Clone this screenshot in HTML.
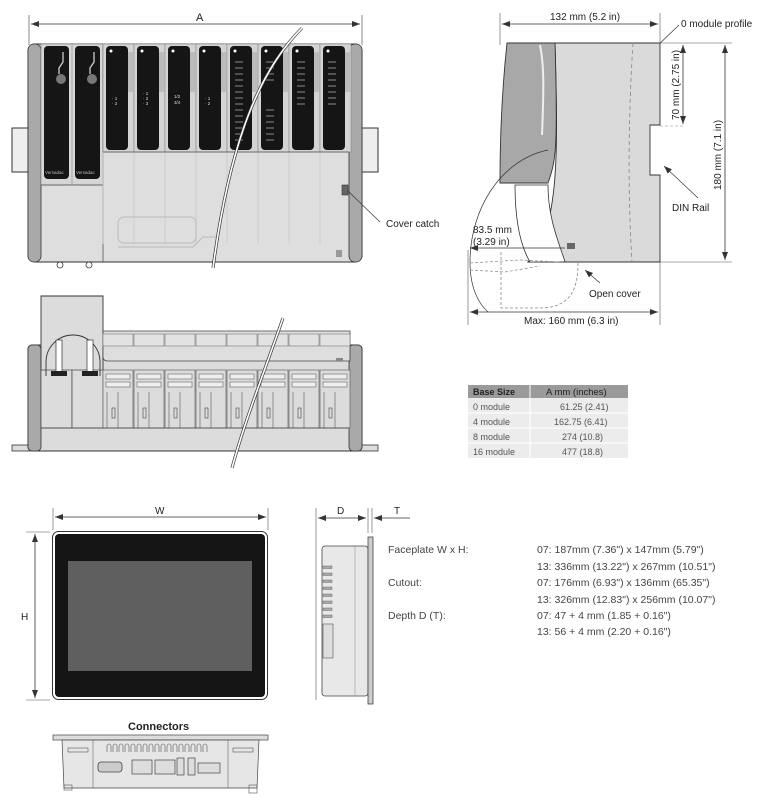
<!DOCTYPE html>
<html><head><meta charset="utf-8"><style>
html,body{margin:0;padding:0;background:#fff;width:768px;height:811px;overflow:hidden}
svg{display:block}
text{font-family:"Liberation Sans",sans-serif;fill:#222}
</style></head><body>
<svg width="768" height="811" viewBox="0 0 768 811" xmlns="http://www.w3.org/2000/svg">
<defs>
<marker id="ar" markerWidth="8" markerHeight="6" refX="8" refY="3" orient="auto-start-reverse" markerUnits="userSpaceOnUse"><path d="M0,0 L8,3 L0,6 z" fill="#333"/></marker>
<g id="mod">
 <rect x="0" y="0" width="31" height="108" fill="#d4d4d4" stroke="#888" stroke-width="0.6"/>
 <rect x="3" y="2" width="22" height="104" rx="4" fill="#151515"/>
 <circle cx="8" cy="7" r="1.5" fill="#fff"/>
 <rect x="25" y="8" width="5" height="40" fill="#bbb"/>
 <line x1="0" y1="108" x2="0" y2="200" stroke="#c8c8c8" stroke-width="0.8"/>
</g>
<g id="smod">
 <rect x="0" y="0" width="30" height="12" fill="#e2e2e2" stroke="#777" stroke-width="0.6"/>
 <rect x="0" y="36" width="30" height="58" fill="#dcdcdc" stroke="#666" stroke-width="0.7"/>
 <rect x="3" y="40" width="24" height="5" fill="#eee" stroke="#666" stroke-width="0.6"/>
 <rect x="3" y="48" width="24" height="5" fill="#eee" stroke="#666" stroke-width="0.6"/>
 <line x1="4" y1="58" x2="4" y2="94" stroke="#555" stroke-width="0.6"/>
 <line x1="15" y1="58" x2="15" y2="94" stroke="#555" stroke-width="0.6"/>
 <rect x="9" y="74" width="3" height="10" fill="none" stroke="#444" stroke-width="0.6"/>
</g>
</defs>

<!-- ===== Top front view ===== -->
<line x1="29" y1="15" x2="29" y2="45" stroke="#555" stroke-width="0.7"/>
<line x1="362" y1="15" x2="362" y2="45" stroke="#555" stroke-width="0.7"/>
<line x1="31" y1="24" x2="360" y2="24" stroke="#333" stroke-width="0.8" marker-start="url(#ar)" marker-end="url(#ar)"/>
<text x="196" y="21" font-size="11">A</text>
<rect x="12" y="128" width="18" height="44" fill="#eee" stroke="#333" stroke-width="1"/>
<rect x="360" y="128" width="18" height="44" fill="#eee" stroke="#333" stroke-width="1"/>
<rect x="28" y="44" width="334" height="218" rx="7" fill="#dedede" stroke="#333" stroke-width="1"/>
<rect x="28" y="44" width="13" height="218" rx="6" fill="#a9a9a9" stroke="#333" stroke-width="0.8"/>
<rect x="349" y="44" width="13" height="218" rx="6" fill="#a9a9a9" stroke="#333" stroke-width="0.8"/>
<rect x="41" y="44" width="62" height="141" fill="#d6d6d6" stroke="#777" stroke-width="0.6"/>
<rect x="44" y="46" width="25" height="133" rx="4" fill="#151515"/>
<rect x="75" y="46" width="25" height="133" rx="4" fill="#151515"/>
<line x1="72" y1="44" x2="72" y2="185" stroke="#888" stroke-width="0.6"/>
<line x1="41" y1="185" x2="103" y2="185" stroke="#555" stroke-width="0.8"/>
<line x1="103" y1="44" x2="103" y2="262" stroke="#555" stroke-width="0.8"/>
<circle cx="61" cy="79" r="5" fill="#777"/><circle cx="92" cy="79" r="5" fill="#777"/>
<path d="M63,52 v10 l-4,6 v6" stroke="#ccc" fill="none" stroke-width="1.3"/>
<path d="M94,52 v10 l-4,6 v6" stroke="#ccc" fill="none" stroke-width="1.3"/>
<text x="45" y="174" font-size="4.5" style="fill:#bbb">Versadac</text>
<text x="76" y="174" font-size="4.5" style="fill:#bbb">Versadac</text>
<use href="#mod" x="103" y="44"/><use href="#mod" x="134" y="44"/><use href="#mod" x="165" y="44"/><use href="#mod" x="196" y="44"/>
<use href="#mod" x="227" y="44"/><use href="#mod" x="258" y="44"/><use href="#mod" x="289" y="44"/><use href="#mod" x="320" y="44"/>
<line x1="103" y1="152" x2="349" y2="152" stroke="#555" stroke-width="0.8"/>
<g font-size="4.5">
<text x="112" y="100" style="fill:#ddd">· 1</text><text x="112" y="105" style="fill:#ddd">· 2</text>
<text x="143" y="95" style="fill:#ddd">· 1</text><text x="143" y="100" style="fill:#ddd">· 2</text><text x="143" y="105" style="fill:#ddd">· 3</text>
<text x="174" y="98" style="fill:#ddd">1/2</text><text x="174" y="104" style="fill:#ddd">3/4</text>
<text x="205" y="100" style="fill:#ddd">· 1</text><text x="205" y="105" style="fill:#ddd">· 2</text>
</g>
<g stroke="#aaa" stroke-width="0.8">
<line x1="235" y1="62" x2="243" y2="62"/><line x1="235" y1="68" x2="243" y2="68"/><line x1="235" y1="74" x2="243" y2="74"/><line x1="235" y1="80" x2="243" y2="80"/><line x1="235" y1="86" x2="243" y2="86"/><line x1="235" y1="92" x2="243" y2="92"/><line x1="235" y1="98" x2="243" y2="98"/><line x1="235" y1="104" x2="243" y2="104"/><line x1="235" y1="110" x2="243" y2="110"/><line x1="235" y1="116" x2="243" y2="116"/><line x1="235" y1="122" x2="243" y2="122"/><line x1="235" y1="128" x2="243" y2="128"/><line x1="235" y1="134" x2="243" y2="134"/><line x1="235" y1="140" x2="243" y2="140"/>
<line x1="266" y1="62" x2="274" y2="62"/><line x1="266" y1="68" x2="274" y2="68"/><line x1="266" y1="74" x2="274" y2="74"/><line x1="266" y1="80" x2="274" y2="80"/><line x1="266" y1="110" x2="274" y2="110"/><line x1="266" y1="116" x2="274" y2="116"/><line x1="266" y1="122" x2="274" y2="122"/><line x1="266" y1="128" x2="274" y2="128"/><line x1="266" y1="134" x2="274" y2="134"/><line x1="266" y1="140" x2="274" y2="140"/>
<line x1="297" y1="62" x2="305" y2="62"/><line x1="297" y1="68" x2="305" y2="68"/><line x1="297" y1="74" x2="305" y2="74"/><line x1="297" y1="80" x2="305" y2="80"/><line x1="297" y1="86" x2="305" y2="86"/><line x1="297" y1="92" x2="305" y2="92"/><line x1="297" y1="98" x2="305" y2="98"/><line x1="297" y1="104" x2="305" y2="104"/>
<line x1="328" y1="62" x2="336" y2="62"/><line x1="328" y1="68" x2="336" y2="68"/><line x1="328" y1="74" x2="336" y2="74"/><line x1="328" y1="80" x2="336" y2="80"/><line x1="328" y1="86" x2="336" y2="86"/><line x1="328" y1="92" x2="336" y2="92"/><line x1="328" y1="98" x2="336" y2="98"/><line x1="328" y1="104" x2="336" y2="104"/>
</g>
<path d="M124,217 h66 a6,6 0 0 1 6,6 v14 a6,6 0 0 1 -6,6 h-66 a6,6 0 0 1 -6,-6 v-14 a6,6 0 0 1 6,-6z" fill="none" stroke="#bbb" stroke-width="1"/>
<path d="M118,247 h75 l10,-10 h14" fill="none" stroke="#bbb" stroke-width="1"/>
<rect x="342" y="185" width="6" height="10" fill="#666" stroke="#333" stroke-width="0.6"/>
<rect x="336" y="250" width="6" height="7" fill="#999"/>
<circle cx="60" cy="265" r="3" fill="none" stroke="#333" stroke-width="0.8"/><circle cx="89" cy="265" r="3" fill="none" stroke="#333" stroke-width="0.8"/>
<line x1="348" y1="191" x2="380" y2="222" stroke="#333" stroke-width="0.7"/>
<text x="386" y="227" font-size="10">Cover catch</text>
<path d="M302,28 C260,70 230,140 213,268" fill="none" stroke="#333" stroke-width="3"/>
<path d="M302,28 C260,70 230,140 213,268" fill="none" stroke="#fff" stroke-width="1.6"/>

<!-- ===== Second view ===== -->
<rect x="12" y="445" width="18" height="6" fill="#ddd" stroke="#333" stroke-width="0.8"/>
<rect x="360" y="445" width="18" height="6" fill="#ddd" stroke="#333" stroke-width="0.8"/>
<rect x="28" y="345" width="334" height="106" rx="4" fill="#dcdcdc" stroke="#333" stroke-width="1"/>
<rect x="28" y="345" width="13" height="106" rx="4" fill="#a9a9a9" stroke="#333" stroke-width="0.8"/>
<rect x="349" y="345" width="13" height="106" rx="4" fill="#a9a9a9" stroke="#333" stroke-width="0.8"/>
<path d="M41,296 h62 v75 h-62 z" fill="#dcdcdc" stroke="#333" stroke-width="0.9"/>
<rect x="41" y="370" width="31" height="58" fill="#dcdcdc" stroke="#444" stroke-width="0.7"/>
<rect x="72" y="370" width="31" height="58" fill="#dcdcdc" stroke="#444" stroke-width="0.7"/>
<path d="M46,376 v-14 a22,22 0 0 1 54,0 v14" fill="none" stroke="#333" stroke-width="0.9"/>
<rect x="56" y="340" width="6" height="32" fill="#fff" stroke="#333" stroke-width="0.7"/>
<rect x="87" y="340" width="6" height="32" fill="#fff" stroke="#333" stroke-width="0.7"/>
<rect x="51" y="371" width="16" height="5" fill="#222"/><rect x="82" y="371" width="16" height="5" fill="#222"/>
<path d="M103,331 h247 v30 h-243 a4,4 0 0 1 -4,-4z" fill="#dedede" stroke="#444" stroke-width="0.8"/>
<use href="#smod" x="103" y="334"/><use href="#smod" x="134" y="334"/><use href="#smod" x="165" y="334"/><use href="#smod" x="196" y="334"/>
<use href="#smod" x="227" y="334"/><use href="#smod" x="258" y="334"/><use href="#smod" x="289" y="334"/><use href="#smod" x="320" y="334"/>
<line x1="41" y1="428" x2="349" y2="428" stroke="#444" stroke-width="0.8"/>
<rect x="336" y="358" width="7" height="3" fill="#888"/>
<path d="M283,318 C265,370 245,420 232,468" fill="none" stroke="#333" stroke-width="3"/>
<path d="M283,318 C265,370 245,420 232,468" fill="none" stroke="#fff" stroke-width="1.6"/>

<!-- ===== Side view ===== -->
<line x1="500" y1="13" x2="500" y2="45" stroke="#555" stroke-width="0.6"/>
<line x1="660" y1="13" x2="660" y2="45" stroke="#555" stroke-width="0.6"/>
<line x1="502" y1="24" x2="658" y2="24" stroke="#333" stroke-width="0.8" marker-start="url(#ar)" marker-end="url(#ar)"/>
<text x="550" y="20" font-size="10">132 mm (5.2 in)</text>
<text x="681" y="27" font-size="10">0 module profile</text>
<line x1="679" y1="25" x2="628" y2="74" stroke="#333" stroke-width="0.7" marker-end="url(#ar)"/>
<path d="M555,43 h105 v82 h-10 v50 h10 v87 h-132 C560,230 558,150 555,43z" fill="#dadada" stroke="#333" stroke-width="0.9"/>
<path d="M507,43 h48 C558,150 556,160 548,183 h-48 C500,130 503,80 507,43z" fill="#a8a8a8" stroke="#333" stroke-width="0.9"/>
<path d="M540,45 c4,20 4,40 2,90" fill="none" stroke="#eee" stroke-width="2"/>
<path d="M633,43 C628,120 628,200 632,262" fill="none" stroke="#888" stroke-width="0.8" stroke-dasharray="4,3"/>
<path d="M515,185 h33 C548,220 560,245 565,262 h-35 C520,245 515,220 515,185z" fill="#fff" stroke="#333" stroke-width="0.8"/>
<path d="M548,150 C500,160 470,210 470,262 C470,290 480,305 488,312" fill="none" stroke="#333" stroke-width="0.7"/>
<rect x="567" y="243" width="8" height="6" fill="#666"/>
<path d="M470,263 L520,260 L560,262 M470,270 L505,272 L540,266" fill="none" stroke="#888" stroke-width="0.7" stroke-dasharray="3,2"/>
<path d="M501,252 v56 h38 C570,308 578,290 578,263" fill="none" stroke="#888" stroke-width="0.8" stroke-dasharray="3,2"/>
<line x1="470" y1="248" x2="565" y2="248" stroke="#333" stroke-width="0.7" marker-start="url(#ar)"/>
<text x="473" y="233" font-size="10">83.5 mm</text>
<text x="473" y="245" font-size="10">(3.29 in)</text>
<line x1="582" y1="262" x2="560" y2="262" stroke="#333" stroke-width="0.7"/>
<line x1="600" y1="283" x2="585" y2="270" stroke="#333" stroke-width="0.7" marker-end="url(#ar)"/>
<text x="589" y="297" font-size="10">Open cover</text>
<line x1="468" y1="250" x2="468" y2="325" stroke="#555" stroke-width="0.6"/>
<line x1="660" y1="262" x2="660" y2="325" stroke="#555" stroke-width="0.6"/>
<line x1="470" y1="312" x2="658" y2="312" stroke="#333" stroke-width="0.8" marker-start="url(#ar)" marker-end="url(#ar)"/>
<text x="524" y="324" font-size="10">Max: 160 mm (6.3 in)</text>
<line x1="660" y1="43" x2="732" y2="43" stroke="#555" stroke-width="0.6"/>
<line x1="660" y1="262" x2="732" y2="262" stroke="#555" stroke-width="0.6"/>
<line x1="660" y1="126" x2="685" y2="126" stroke="#888" stroke-width="0.6" stroke-dasharray="3,2"/>
<line x1="683" y1="45" x2="683" y2="124" stroke="#333" stroke-width="0.8" marker-start="url(#ar)" marker-end="url(#ar)"/>
<line x1="725" y1="45" x2="725" y2="260" stroke="#333" stroke-width="0.8" marker-start="url(#ar)" marker-end="url(#ar)"/>
<text transform="translate(679,120) rotate(-90)" font-size="10">70 mm (2.75 in)</text>
<text transform="translate(721,190) rotate(-90)" font-size="10">180 mm (7.1 in)</text>
<line x1="698" y1="198" x2="664" y2="166" stroke="#333" stroke-width="0.7" marker-end="url(#ar)"/>
<text x="672" y="211" font-size="10">DIN Rail</text>

<!-- table -->
<rect x="468" y="385" width="160" height="13" fill="#9a9a9a"/>
<rect x="468" y="398" width="160" height="60" fill="#ececec"/>
<g stroke="#fff" stroke-width="1"><line x1="468" y1="413" x2="628" y2="413"/><line x1="468" y1="428" x2="628" y2="428"/><line x1="468" y1="443" x2="628" y2="443"/><line x1="530" y1="385" x2="530" y2="458"/></g>
<text x="473" y="395" font-size="9" font-weight="bold" style="fill:#222">Base Size</text>
<text x="546" y="395" font-size="9.5" style="fill:#222">A  mm (inches)</text>
<g font-size="9">
<text x="473" y="410" style="fill:#555">0 module</text><text x="560" y="410" style="fill:#555">61.25 (2.41)</text>
<text x="473" y="425" style="fill:#555">4 module</text><text x="554" y="425" style="fill:#555">162.75 (6.41)</text>
<text x="473" y="440" style="fill:#555">8 module</text><text x="562" y="440" style="fill:#555">274 (10.8)</text>
<text x="473" y="455" style="fill:#555">16 module</text><text x="562" y="455" style="fill:#555">477 (18.8)</text>
</g>

<!-- ===== HMI front ===== -->
<line x1="53" y1="508" x2="53" y2="530" stroke="#555" stroke-width="0.6"/>
<line x1="268" y1="508" x2="268" y2="530" stroke="#555" stroke-width="0.6"/>
<line x1="55" y1="517" x2="266" y2="517" stroke="#333" stroke-width="0.8" marker-start="url(#ar)" marker-end="url(#ar)"/>
<text x="155" y="514" font-size="10">W</text>
<line x1="26" y1="532" x2="50" y2="532" stroke="#555" stroke-width="0.6"/>
<line x1="26" y1="700" x2="50" y2="700" stroke="#555" stroke-width="0.6"/>
<line x1="35" y1="534" x2="35" y2="698" stroke="#333" stroke-width="0.8" marker-start="url(#ar)" marker-end="url(#ar)"/>
<text x="21" y="620" font-size="10">H</text>
<rect x="52.5" y="531.5" width="215" height="168" rx="6" fill="#fff" stroke="#333" stroke-width="1"/>
<rect x="55" y="534" width="210" height="163" rx="4" fill="#151515"/>
<rect x="68" y="561" width="184" height="110" fill="#5f5f5f"/>

<!-- HMI side -->
<line x1="316" y1="508" x2="316" y2="700" stroke="#555" stroke-width="0.6"/>
<line x1="368" y1="508" x2="368" y2="533" stroke="#555" stroke-width="0.6"/>
<line x1="372" y1="508" x2="372" y2="533" stroke="#555" stroke-width="0.6"/>
<line x1="318" y1="518" x2="366" y2="518" stroke="#333" stroke-width="0.7" marker-start="url(#ar)" marker-end="url(#ar)"/>
<line x1="374" y1="518" x2="410" y2="518" stroke="#333" stroke-width="0.7" marker-start="url(#ar)"/>
<text x="337" y="514" font-size="10">D</text><text x="394" y="514" font-size="10">T</text>
<rect x="322" y="546" width="46" height="150" rx="3" fill="#e8e8e8" stroke="#444" stroke-width="0.8"/>
<line x1="355" y1="546" x2="355" y2="696" stroke="#999" stroke-width="0.6"/>
<rect x="368" y="537" width="5" height="167" fill="#ccc" stroke="#444" stroke-width="0.8"/>
<g fill="#aaa" stroke="#555" stroke-width="0.4">
<rect x="323" y="566" width="9" height="2.5"/><rect x="323" y="573" width="9" height="2.5"/><rect x="323" y="580" width="9" height="2.5"/><rect x="323" y="587" width="9" height="2.5"/><rect x="323" y="594" width="9" height="2.5"/><rect x="323" y="601" width="9" height="2.5"/><rect x="323" y="608" width="9" height="2.5"/><rect x="323" y="615" width="9" height="2.5"/>
</g>
<rect x="323" y="624" width="10" height="34" fill="#ddd" stroke="#555" stroke-width="0.6"/>

<g font-size="10.5">
<text x="388" y="553" style="fill:#444">Faceplate W x H:</text>
<text x="388" y="586" style="fill:#444">Cutout:</text>
<text x="388" y="619" style="fill:#444">Depth D (T):</text>
<text x="537" y="553" style="fill:#444">07:  187mm (7.36")  x 147mm (5.79")</text>
<text x="537" y="570" style="fill:#444">13:  336mm (13.22")  x 267mm (10.51")</text>
<text x="537" y="586" style="fill:#444">07:  176mm (6.93") x 136mm (65.35")</text>
<text x="537" y="603" style="fill:#444">13:  326mm (12.83") x 256mm (10.07")</text>
<text x="537" y="619" style="fill:#444">07:  47 + 4 mm (1.85 + 0.16")</text>
<text x="537" y="635" style="fill:#444">13:  56 + 4 mm (2.20 + 0.16")</text>
</g>

<!-- Connectors -->
<text x="128" y="730" font-size="11" font-weight="bold">Connectors</text>
<rect x="53" y="735" width="215" height="5" fill="#ddd" stroke="#444" stroke-width="0.7"/>
<path d="M62,740 h197 l-2,48 h-193z" fill="#e6e6e6" stroke="#444" stroke-width="0.7"/>
<line x1="93" y1="740" x2="93" y2="788" stroke="#666" stroke-width="0.6"/>
<line x1="228" y1="740" x2="228" y2="788" stroke="#666" stroke-width="0.6"/>
<rect x="68" y="748" width="20" height="4" fill="none" stroke="#555" stroke-width="0.6"/>
<rect x="233" y="748" width="20" height="4" fill="none" stroke="#555" stroke-width="0.6"/>
<path d="M107,752 v-6 a2,2 0 0 1 4,0 v6 M113,752 v-6 a2,2 0 0 1 4,0 v6 M119,752 v-6 a2,2 0 0 1 4,0 v6 M125,752 v-6 a2,2 0 0 1 4,0 v6 M131,752 v-6 a2,2 0 0 1 4,0 v6 M137,752 v-6 a2,2 0 0 1 4,0 v6 M143,752 v-6 a2,2 0 0 1 4,0 v6 M149,752 v-6 a2,2 0 0 1 4,0 v6 M155,752 v-6 a2,2 0 0 1 4,0 v6 M161,752 v-6 a2,2 0 0 1 4,0 v6 M167,752 v-6 a2,2 0 0 1 4,0 v6 M173,752 v-6 a2,2 0 0 1 4,0 v6 M179,752 v-6 a2,2 0 0 1 4,0 v6 M185,752 v-6 a2,2 0 0 1 4,0 v6 M191,752 v-6 a2,2 0 0 1 4,0 v6 M197,752 v-6 a2,2 0 0 1 4,0 v6 M203,752 v-6 a2,2 0 0 1 4,0 v6" fill="none" stroke="#555" stroke-width="0.6"/>
<rect x="98" y="762" width="24" height="10" rx="3" fill="#ccc" stroke="#444" stroke-width="0.8"/>
<rect x="132" y="760" width="20" height="14" fill="#ddd" stroke="#444" stroke-width="0.7"/>
<rect x="155" y="760" width="20" height="14" fill="#ddd" stroke="#444" stroke-width="0.7"/>
<rect x="177" y="758" width="7" height="17" fill="#ddd" stroke="#444" stroke-width="0.7"/>
<rect x="188" y="758" width="7" height="17" fill="#ddd" stroke="#444" stroke-width="0.7"/>
<rect x="198" y="763" width="22" height="10" fill="#ddd" stroke="#444" stroke-width="0.7"/>
<rect x="64" y="785" width="8" height="5" fill="none" stroke="#555" stroke-width="0.6"/>
<rect x="249" y="785" width="8" height="8" fill="none" stroke="#555" stroke-width="0.6"/>
</svg>
</body></html>
